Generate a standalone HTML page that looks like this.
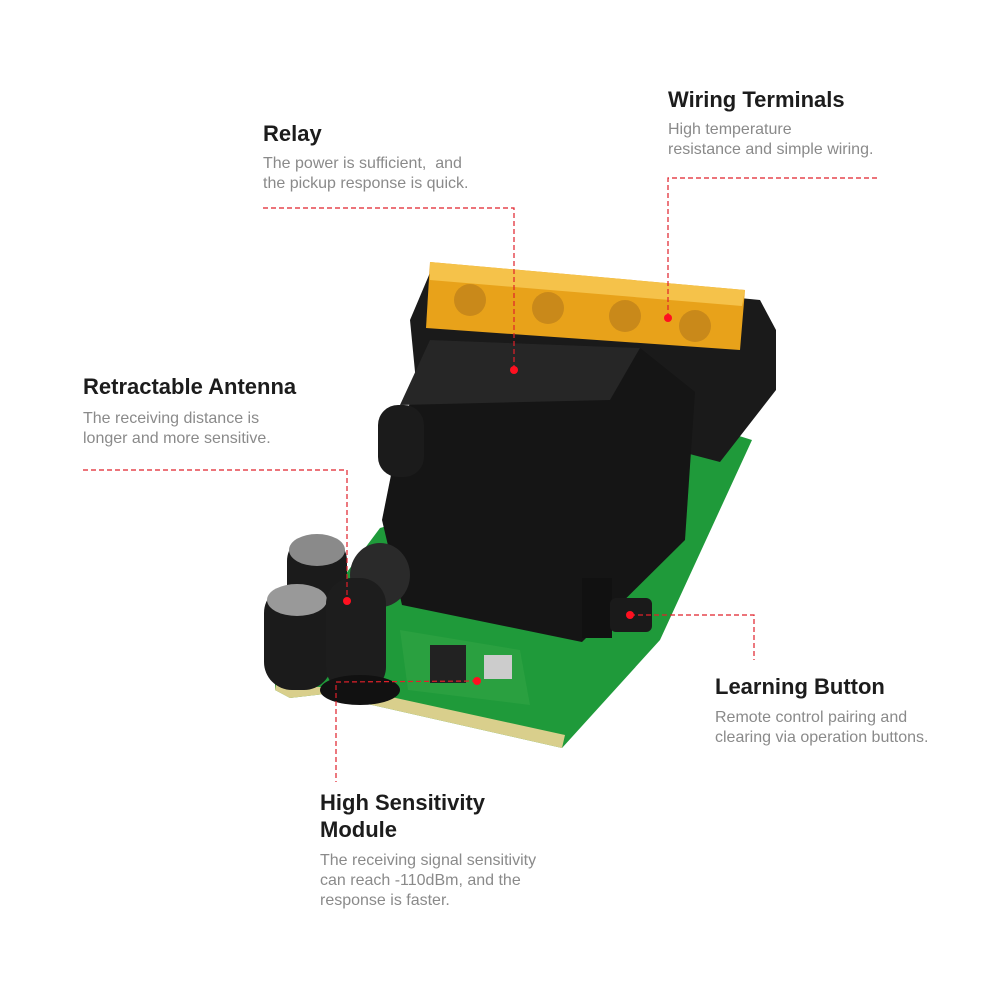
<!DOCTYPE html>
<html><head><style>
html,body{margin:0;padding:0;background:#fff;}
body{width:1001px;height:1001px;position:relative;overflow:hidden;font-family:"Liberation Sans",sans-serif;}
.t{position:absolute;font-weight:bold;font-size:22px;color:#1c1c1c;line-height:27px;}
.d{position:absolute;font-size:16px;color:#8a8a8a;line-height:20px;}
svg{position:absolute;left:0;top:0;}
</style></head><body>
<svg width="1001" height="1001">
<!-- PCB -->
<polygon points="275,668 300,635 380,528 720,430 752,440 660,640 562,748 350,700 342,692 290,698 275,690" fill="#1f9a3a"/>
<polygon points="275,690 290,698 342,692 350,700 562,748 565,735 350,688 290,686 277,678" fill="#d9cf8c"/>
<!-- terminal block -->
<polygon points="410,320 432,268 760,300 776,330 776,390 720,462 416,382" fill="#1a1a1a"/>
<polygon points="430,262 745,290 740,350 426,328" fill="#e8a21a"/>
<polygon points="430,262 745,290 742,306 430,280" fill="#f5c24a"/>
<circle cx="470" cy="300" r="16" fill="#c9891a"/><circle cx="548" cy="308" r="16" fill="#c9891a"/>
<circle cx="625" cy="316" r="16" fill="#c9891a"/><circle cx="695" cy="326" r="16" fill="#c9891a"/>
<!-- relay -->
<polygon points="430,340 640,348 695,392 685,540 582,642 402,605 382,520 398,440" fill="#151515"/>
<polygon points="430,340 640,348 610,400 400,405" fill="#262626"/>
<!-- capacitors -->
<rect x="378" y="405" width="46" height="72" rx="20" fill="#1b1b1b"/>
<rect x="287" y="535" width="60" height="80" rx="26" fill="#1b1b1b"/>
<ellipse cx="317" cy="550" rx="28" ry="16" fill="#8a8a8a"/>
<rect x="264" y="585" width="68" height="105" rx="28" fill="#1b1b1b"/>
<ellipse cx="297" cy="600" rx="30" ry="16" fill="#999"/>
<!-- inductor -->
<ellipse cx="380" cy="575" rx="30" ry="32" fill="#2a2a2a"/>
<!-- module -->
<polygon points="400,630 520,650 530,705 408,690" fill="#2aa040"/>
<rect x="430" y="645" width="36" height="38" fill="#222"/>
<rect x="484" y="655" width="28" height="24" fill="#ccc"/>
<!-- antenna coil -->
<rect x="326" y="578" width="60" height="115" rx="26" fill="#1d1d1d"/>
<ellipse cx="360" cy="690" rx="40" ry="15" fill="#111"/>
<!-- button -->
<rect x="582" y="578" width="30" height="60" fill="#111"/>
<rect x="610" y="598" width="42" height="34" rx="6" fill="#1a1a1a"/>
<!-- dashed lines -->
<g stroke="#e0202a" stroke-width="1.2" stroke-dasharray="5,3" fill="none">
<polyline points="263,208 514,208 514,370"/>
<polyline points="668,318 668,178 878,178"/>
<polyline points="83,470 347,470 347,601"/>
<polyline points="630,615 754,615 754,660"/>
<polyline points="477,681 336,682 336,782"/>
</g>
<g fill="#ff1020">
<circle cx="514" cy="370" r="4"/><circle cx="668" cy="318" r="4"/><circle cx="347" cy="601" r="4"/>
<circle cx="630" cy="615" r="4"/><circle cx="477" cy="681" r="4"/>
</g>
</svg>
<div class="t" style="left:263px;top:120px">Relay</div>
<div class="d" style="left:263px;top:154px">The power is sufficient,&nbsp; and<br>the pickup response is quick.</div>
<div class="t" style="left:668px;top:86px">Wiring Terminals</div>
<div class="d" style="left:668px;top:120px">High temperature<br>resistance and simple wiring.</div>
<div class="t" style="left:83px;top:373px">Retractable Antenna</div>
<div class="d" style="left:83px;top:409px">The receiving distance is<br>longer and more sensitive.</div>
<div class="t" style="left:715px;top:673px">Learning Button</div>
<div class="d" style="left:715px;top:708px">Remote control pairing and<br>clearing via operation buttons.</div>
<div class="t" style="left:320px;top:789px">High Sensitivity<br>Module</div>
<div class="d" style="left:320px;top:851px">The receiving signal sensitivity<br>can reach -110dBm, and the<br>response is faster.</div>
</body></html>
